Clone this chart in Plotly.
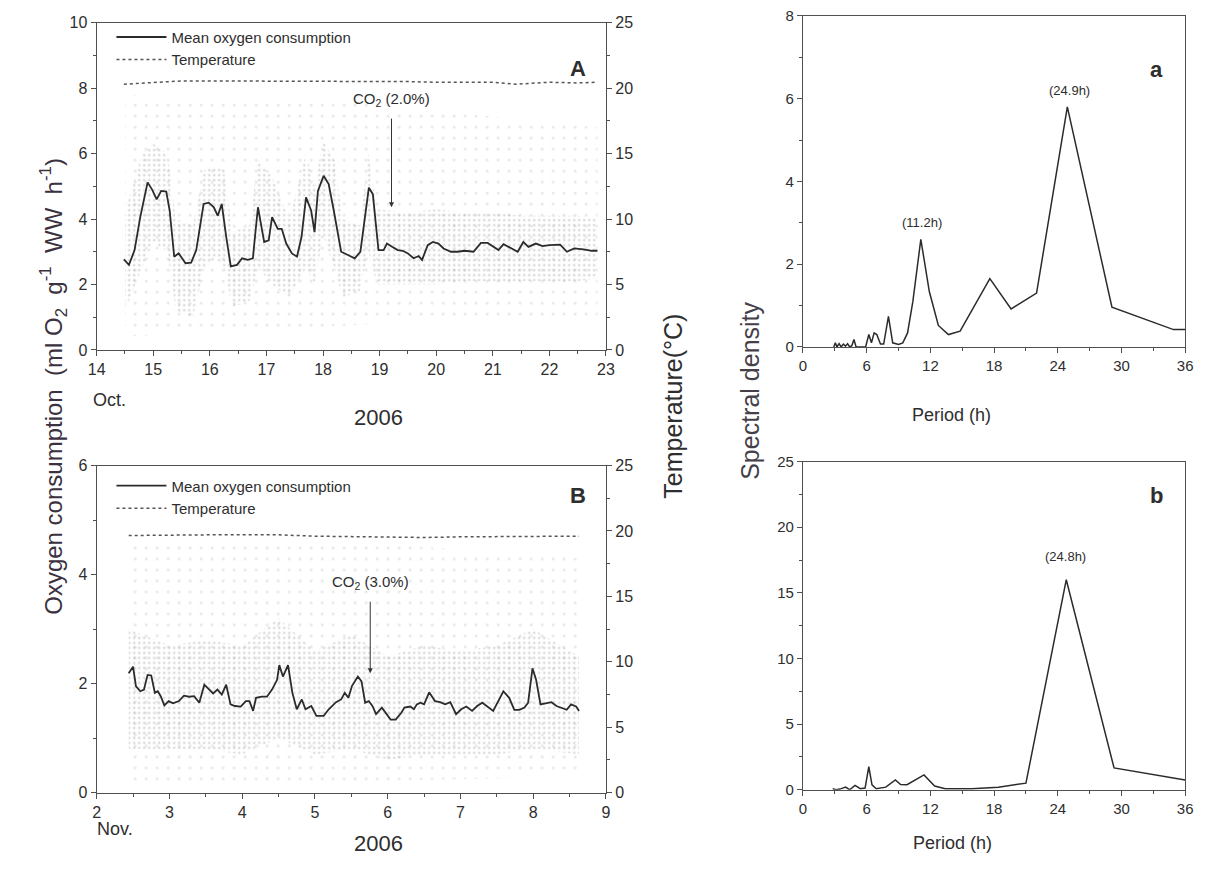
import plotly.graph_objects as go

W, H = 1207, 883

# ---------------- Panel A (Oct 2006) ----------------
a_time = [14.48, 14.57, 14.67, 14.77, 14.9, 14.98, 15.06, 15.14, 15.23, 15.29, 15.37, 15.45, 15.57, 15.67,
          15.76, 15.89, 15.98, 16.07, 16.14, 16.21, 16.29, 16.37, 16.48, 16.57, 16.67, 16.76, 16.85, 16.96,
          17.04, 17.1, 17.2, 17.27, 17.35, 17.45, 17.54, 17.62, 17.7, 17.79, 17.85, 17.91, 18.01, 18.1,
          18.19, 18.32, 18.44, 18.56, 18.66, 18.76, 18.81, 18.88, 18.98, 19.07, 19.13, 19.22, 19.32, 19.41,
          19.5, 19.6, 19.69, 19.75, 19.85, 19.94, 20.04, 20.13, 20.26, 20.38, 20.5, 20.66, 20.79, 20.91,
          21.0, 21.1, 21.19, 21.32, 21.44, 21.54, 21.63, 21.76, 21.88, 22.0, 22.1, 22.19, 22.31, 22.44,
          22.6, 22.75, 22.85]
a_oxygen = [2.77, 2.6, 3.05, 4.06, 5.12, 4.9, 4.6, 4.86, 4.84, 4.26, 2.85, 2.95, 2.65, 2.67,
            3.05, 4.46, 4.5, 4.36, 4.1, 4.46, 3.45, 2.55, 2.6, 2.8, 2.75, 2.8, 4.36, 3.3,
            3.35, 4.06, 3.7, 3.7, 3.25, 2.95, 2.85, 3.45, 4.66, 4.26, 3.6, 4.86, 5.32, 5.07,
            4.26, 3.0, 2.9, 2.8, 3.0, 4.36, 4.96, 4.76, 3.05, 3.05, 3.25, 3.15, 3.05, 3.03,
            2.95, 2.8, 2.87, 2.75, 3.2, 3.3, 3.25, 3.1, 3.0, 3.0, 3.03, 3.0, 3.27, 3.27,
            3.17, 3.05, 3.23, 3.1, 3.0, 3.3, 3.15, 3.25, 3.17, 3.2, 3.2, 3.22, 3.0, 3.1,
            3.07, 3.03, 3.03]
a_temp_time = [14.48, 15.0, 15.5, 16.0, 16.5, 17.0, 17.5, 18.0, 18.5, 19.0, 19.5, 20.0, 20.5, 21.0,
               21.4, 21.7, 22.0, 22.5, 22.85]
a_temp = [20.3, 20.4, 20.55, 20.55, 20.55, 20.5, 20.55, 20.55, 20.5, 20.5, 20.5, 20.45, 20.45, 20.45,
          20.3, 20.4, 20.45, 20.4, 20.45]
# spread of individual readings (dense core of the dot cloud)
a_cloud_time = [14.5, 14.8, 15.0, 15.25, 15.4, 15.7, 15.9, 16.1, 16.25, 16.4, 16.7, 16.85, 17.1, 17.4,
                17.7, 17.85, 18.0, 18.2, 18.35, 18.65, 18.8, 18.95, 19.5, 20.0, 20.5, 21.0, 21.5, 22.0,
                22.5, 22.85]
a_cloud_low = [1.2, 2.5, 3.3, 3.0, 1.2, 1.0, 2.5, 2.8, 2.5, 1.3, 1.5, 2.5, 2.0, 1.6,
               2.5, 2.0, 3.5, 2.5, 1.6, 1.8, 3.0, 2.0, 2.0, 2.0, 2.1, 2.1, 2.1, 2.1,
               2.1, 2.2]
a_cloud_high = [4.2, 6.0, 6.3, 6.0, 4.0, 3.8, 5.5, 5.6, 5.5, 3.6, 3.8, 5.8, 5.3, 4.0,
                6.0, 5.0, 6.4, 5.8, 4.0, 3.8, 6.0, 4.3, 4.2, 4.3, 4.2, 4.2, 4.1, 4.1,
                4.1, 4.0]
a_sparse_time = [14.5, 19.0, 22.85]
a_sparse_low = [0.4, 0.8, 1.0]
a_sparse_high = [7.8, 7.5, 6.8]

# ---------------- Panel B (Nov 2006) ----------------
b_time = [2.44, 2.5, 2.54, 2.6, 2.65, 2.7, 2.75, 2.8, 2.84, 2.88, 2.93, 2.99, 3.05, 3.13, 3.2, 3.27,
          3.34, 3.41, 3.48, 3.54, 3.6, 3.66, 3.72, 3.78, 3.84, 3.9, 3.98, 4.05, 4.1, 4.15, 4.19, 4.27,
          4.34, 4.41, 4.48, 4.51, 4.56, 4.63, 4.69, 4.75, 4.82, 4.87, 4.95, 5.02, 5.12, 5.19, 5.29,
          5.36, 5.41, 5.46, 5.51, 5.59, 5.64, 5.69, 5.74, 5.79, 5.84, 5.92, 5.99, 6.04, 6.11, 6.19,
          6.23, 6.31, 6.36, 6.4, 6.45, 6.5, 6.57, 6.65, 6.72, 6.79, 6.86, 6.94, 7.01, 7.08, 7.16,
          7.23, 7.3, 7.37, 7.45, 7.52, 7.59, 7.67, 7.74, 7.81, 7.88, 7.93, 7.99, 8.04, 8.1, 8.17,
          8.25, 8.32, 8.39, 8.46, 8.52, 8.59, 8.63]
b_oxygen = [2.19, 2.31, 1.95, 1.86, 1.89, 2.16, 2.15, 1.83, 1.86, 1.77, 1.6, 1.68, 1.64, 1.68, 1.78, 1.76,
            1.77, 1.65, 1.98, 1.89, 1.82, 1.89, 1.8, 1.98, 1.62, 1.59, 1.58, 1.68, 1.68, 1.5, 1.74, 1.76,
            1.76, 1.89, 2.07, 2.34, 2.13, 2.34, 1.83, 1.53, 1.71, 1.53, 1.59, 1.41, 1.41, 1.53, 1.66,
            1.71, 1.83, 1.74, 1.96, 2.13, 2.04, 1.65, 1.68, 1.59, 1.44, 1.56, 1.44, 1.34, 1.34, 1.47,
            1.56, 1.58, 1.53, 1.62, 1.65, 1.62, 1.84, 1.68, 1.66, 1.62, 1.66, 1.44, 1.53, 1.58, 1.5,
            1.59, 1.65, 1.58, 1.5, 1.68, 1.86, 1.74, 1.52, 1.52, 1.56, 1.65, 2.28, 2.07, 1.62, 1.64,
            1.66, 1.59, 1.56, 1.52, 1.62, 1.58, 1.5]
b_temp_time = [2.44, 3.0, 3.5, 4.0, 4.5, 5.0, 5.5, 6.0, 6.5, 7.0, 7.5, 8.0, 8.63]
b_temp = [19.65, 19.7, 19.7, 19.7, 19.7, 19.6, 19.55, 19.5, 19.5, 19.55, 19.55, 19.6, 19.6]
b_cloud_time = [2.44, 3.0, 3.5, 4.0, 4.5, 5.0, 5.5, 6.0, 6.5, 7.0, 7.5, 8.0, 8.63]
b_cloud_low = [0.8, 0.8, 0.8, 0.7, 1.0, 0.7, 0.8, 0.6, 0.7, 0.7, 0.7, 0.8, 0.7]
b_cloud_high = [3.0, 2.7, 2.8, 2.7, 3.2, 2.6, 2.9, 2.5, 2.7, 2.6, 2.7, 3.0, 2.5]
b_sparse_time = [2.44, 5.5, 8.63]
b_sparse_low = [0.2, 0.2, 0.3]
b_sparse_high = [4.6, 4.6, 4.3]

# ---------------- Spectral panels ----------------
sa_period = [2.9, 3.05, 3.2, 3.4, 3.6, 3.8, 4.0, 4.2, 4.4, 4.6, 4.8, 5.0, 5.9, 6.2, 6.45, 6.7, 6.95, 7.3,
             7.6, 8.05, 8.45, 9.0, 9.4, 9.85, 10.35, 11.1, 11.9, 12.75, 13.7, 14.8, 17.6, 19.6, 22.0,
             24.9, 29.1, 34.9, 36.0]
sa_density = [0, 0.1, 0, 0.08, 0, 0.07, 0.02, 0.08, 0, 0.03, 0.18, 0, 0, 0.3, 0.1, 0.34, 0.3, 0.07,
              0.07, 0.74, 0.1, 0.06, 0.1, 0.34, 1.1, 2.6, 1.34, 0.52, 0.3, 0.38, 1.65, 0.92, 1.3,
              5.8, 0.96, 0.42, 0.42]
sb_period = [2.8, 3.1, 3.5, 4.0, 4.4, 4.9, 5.4, 5.85, 6.2, 6.5, 6.9, 7.8, 8.7, 9.2, 9.8, 11.4, 12.4,
             13.4, 15.9, 18.4, 21.0, 24.8, 29.3, 36.0]
sb_density = [0.08, 0, 0.05, 0.2, 0, 0.33, 0.08, 0.13, 1.76, 0.38, 0.08, 0.2, 0.75, 0.4, 0.38, 1.13,
              0.28, 0.08, 0.08, 0.2, 0.5, 16.0, 1.66, 0.75]

a_ticks = list(range(14, 24))
b_ticks = list(range(2, 10))
period_ticks = [0, 6, 12, 18, 24, 30, 36]

# ---------------- styling ----------------
FONT = "Liberation Sans, Arial, sans-serif"
NARROW = "Liberation Sans Narrow, Arial Narrow, Liberation Sans, sans-serif"
TXT = "#2e2e2e"
AX = "#505050"
LINE = "#2b2b2b"


def px(x, y):
    return x / W, 1 - y / H


fig = go.Figure()

dot_pattern = dict(shape=".", fgcolor="rgba(95,95,95,0.6)", bgcolor="rgba(0,0,0,0)",
                   size=5, solidity=0.16, fillmode="overlay")
sparse_pattern = dict(shape=".", fgcolor="rgba(140,140,140,0.45)", bgcolor="rgba(0,0,0,0)",
                      size=11, solidity=0.05, fillmode="overlay")


def add_band(t, lo, hi, xa, ya, pattern):
    fig.add_trace(go.Scatter(x=t, y=lo, mode="lines", line=dict(width=0), showlegend=False,
                             hoverinfo="skip", xaxis=xa, yaxis=ya))
    fig.add_trace(go.Scatter(x=t, y=hi, mode="lines", line=dict(width=0), fill="tonexty",
                             fillcolor="rgba(0,0,0,0)", fillpattern=pattern, showlegend=False,
                             hoverinfo="skip", xaxis=xa, yaxis=ya))


# Panel A
add_band(a_sparse_time, a_sparse_low, a_sparse_high, "x", "y", sparse_pattern)
add_band(a_cloud_time, a_cloud_low, a_cloud_high, "x", "y", dot_pattern)
fig.add_trace(go.Scatter(x=a_time, y=a_oxygen, mode="lines", name="Mean oxygen consumption",
                         line=dict(color=LINE, width=1.8), xaxis="x", yaxis="y", legend="legend"))
fig.add_trace(go.Scatter(x=a_temp_time, y=a_temp, mode="lines", name="Temperature",
                         line=dict(color="#555555", width=1.5, dash="dot"), xaxis="x", yaxis="y2",
                         legend="legend"))
# Panel B
add_band(b_sparse_time, b_sparse_low, b_sparse_high, "x2", "y3", sparse_pattern)
add_band(b_cloud_time, b_cloud_low, b_cloud_high, "x2", "y3", dot_pattern)
fig.add_trace(go.Scatter(x=b_time, y=b_oxygen, mode="lines", name="Mean oxygen consumption",
                         line=dict(color=LINE, width=1.8), xaxis="x2", yaxis="y3", legend="legend2"))
fig.add_trace(go.Scatter(x=b_temp_time, y=b_temp, mode="lines", name="Temperature",
                         line=dict(color="#555555", width=1.5, dash="dot"), xaxis="x2", yaxis="y4",
                         legend="legend2"))
# Spectral a, b
fig.add_trace(go.Scatter(x=sa_period, y=sa_density, mode="lines", showlegend=False,
                         line=dict(color=LINE, width=1.5), xaxis="x3", yaxis="y5"))
fig.add_trace(go.Scatter(x=sb_period, y=sb_density, mode="lines", showlegend=False,
                         line=dict(color=LINE, width=1.5), xaxis="x4", yaxis="y6"))

# ---------------- axes ----------------
dA_x = [89 / W, 606 / W]
dA_y = [1 - 348 / H, 1 - 14 / H]
dB_y = [1 - 800 / H, 1 - 466 / H]
dS_x = [806 / W, 1194 / W]
dSa_y = [1 - 345 / H, 1 - 7 / H]
dSb_y = [1 - 797 / H, 1 - 462 / H]


def base_axis(**kw):
    d = dict(showgrid=False, zeroline=False, showline=True, linecolor=AX, linewidth=1.3,
             ticks="outside", ticklen=5, tickcolor=AX, tickwidth=1.2,
             tickfont=dict(family=FONT, size=16, color=TXT))
    d.update(kw)
    return d


def inner_axis(**kw):
    d = dict(showgrid=False, zeroline=False, showline=False, ticks="inside", ticklen=5,
             tickcolor=AX, tickwidth=1.2, showticklabels=False)
    d.update(kw)
    return d


lay = dict(
    width=W, height=H, margin=dict(l=0, r=0, t=0, b=0),
    paper_bgcolor="white", plot_bgcolor="rgba(0,0,0,0)",
    font=dict(family=FONT, color=TXT),
    # Panel A
    xaxis=base_axis(domain=dA_x, anchor="y", range=[14, 23], tickvals=a_ticks, mirror=True,
                    minor=dict(dtick=0.5, ticklen=3, ticks="outside", tickcolor=AX)),
    yaxis=base_axis(domain=dA_y, anchor="x", range=[0, 10], dtick=2,
                    minor=dict(dtick=1, ticklen=3, ticks="outside", tickcolor=AX)),
    yaxis2=base_axis(overlaying="y", anchor="x", side="right", range=[0, 25], dtick=5,
                     minor=dict(dtick=2.5, ticklen=3, ticks="outside", tickcolor=AX)),
    # Panel B
    xaxis2=base_axis(domain=dA_x, anchor="y3", range=[2, 9], tickvals=b_ticks, mirror=True,
                     minor=dict(dtick=0.5, ticklen=3, ticks="outside", tickcolor=AX)),
    yaxis3=base_axis(domain=dB_y, anchor="x2", range=[0, 6], dtick=2,
                     minor=dict(dtick=1, ticklen=3, ticks="outside", tickcolor=AX)),
    yaxis4=base_axis(overlaying="y3", anchor="x2", side="right", range=[0, 25], dtick=5,
                     minor=dict(dtick=2.5, ticklen=3, ticks="outside", tickcolor=AX)),
    # Spectral a
    xaxis3=base_axis(domain=dS_x, anchor="y5", range=[0, 36], tickvals=period_ticks, mirror=True,
                     tickfont=dict(family=NARROW, size=15, color=TXT),
                     minor=dict(dtick=3, ticklen=3, ticks="outside", tickcolor=AX)),
    yaxis5=base_axis(domain=dSa_y, anchor="x3", range=[0, 8], dtick=2, mirror=True,
                     tickfont=dict(family=NARROW, size=15, color=TXT),
                     minor=dict(dtick=1, ticklen=3, ticks="outside", tickcolor=AX)),
    # Spectral b
    xaxis4=base_axis(domain=dS_x, anchor="y6", range=[0, 36], tickvals=period_ticks, mirror=True,
                     tickfont=dict(family=NARROW, size=15, color=TXT),
                     minor=dict(dtick=3, ticklen=3, ticks="outside", tickcolor=AX)),
    yaxis6=base_axis(domain=dSb_y, anchor="x4", range=[0, 25], dtick=5, mirror=True,
                     tickfont=dict(family=NARROW, size=15, color=TXT),
                     minor=dict(dtick=2.5, ticklen=3, ticks="outside", tickcolor=AX)),
    # inner halves of the crossing ticks
    xaxis5=inner_axis(overlaying="x", anchor="y", range=[14, 23], tickvals=a_ticks,
                      minor=dict(dtick=0.5, ticklen=3, ticks="inside", tickcolor=AX)),
    xaxis6=inner_axis(overlaying="x2", anchor="y3", range=[2, 9], tickvals=b_ticks,
                      minor=dict(dtick=0.5, ticklen=3, ticks="inside", tickcolor=AX)),
    xaxis7=inner_axis(overlaying="x3", anchor="y5", range=[0, 36], tickvals=period_ticks,
                      minor=dict(dtick=3, ticklen=3, ticks="inside", tickcolor=AX)),
    xaxis8=inner_axis(overlaying="x4", anchor="y6", range=[0, 36], tickvals=period_ticks,
                      minor=dict(dtick=3, ticklen=3, ticks="inside", tickcolor=AX)),
    yaxis7=inner_axis(overlaying="y", anchor="x", range=[0, 10], dtick=2,
                      minor=dict(dtick=1, ticklen=3, ticks="inside", tickcolor=AX)),
    yaxis8=inner_axis(overlaying="y", anchor="x", side="right", range=[0, 25], dtick=5,
                      minor=dict(dtick=2.5, ticklen=3, ticks="inside", tickcolor=AX)),
    yaxis9=inner_axis(overlaying="y3", anchor="x2", range=[0, 6], dtick=2,
                      minor=dict(dtick=1, ticklen=3, ticks="inside", tickcolor=AX)),
    yaxis10=inner_axis(overlaying="y3", anchor="x2", side="right", range=[0, 25], dtick=5,
                       minor=dict(dtick=2.5, ticklen=3, ticks="inside", tickcolor=AX)),
    yaxis11=inner_axis(overlaying="y5", anchor="x3", range=[0, 8], dtick=2,
                       minor=dict(dtick=1, ticklen=3, ticks="inside", tickcolor=AX)),
    yaxis12=inner_axis(overlaying="y6", anchor="x4", range=[0, 25], dtick=5,
                       minor=dict(dtick=2.5, ticklen=3, ticks="inside", tickcolor=AX)),
    legend=dict(x=px(104, 0)[0], y=px(0, 12)[1], xanchor="left", yanchor="top",
                bgcolor="rgba(0,0,0,0)", font=dict(family=NARROW, size=15, color=TXT),
                tracegroupgap=0, itemwidth=50, traceorder="normal"),
    legend2=dict(x=px(104, 0)[0], y=px(0, 470)[1], xanchor="left", yanchor="top",
                 bgcolor="rgba(0,0,0,0)", font=dict(family=NARROW, size=15, color=TXT),
                 tracegroupgap=0, itemwidth=50, traceorder="normal"),
    showlegend=True,
)
fig.update_layout(**lay)

# ---------------- annotations ----------------
ann = []


def ptext(text, x, y, size, **kw):
    xx, yy = px(x, y)
    d = dict(text=text, x=xx, y=yy, xref="paper", yref="paper", showarrow=False,
             font=dict(family=FONT, size=size, color=kw.pop("color", TXT)))
    d.update(kw)
    ann.append(d)


ptext("<b>A</b>", 578, 46, 22)
ptext("<b>B</b>", 578, 497, 22)
ptext("<b>a</b>", 1173, 47, 22)
ptext("<b>b</b>", 1173, 497, 22)
ptext("Oct.", 83, 399, 18, xanchor="left")
ptext("Nov.", 87, 849, 18, xanchor="left")
ptext("2006", 348, 417, 22)
ptext("2006", 348, 867, 22)
ptext("Period (h)", 999, 414, 18)
ptext("Period (h)", 1000, 864, 18)
ptext("Oxygen consumption &nbsp;(ml O<sub>2</sub> &nbsp;g<sup>-1</sup> &nbsp;WW &nbsp;h<sup>-1</sup>)",
      26, 385, 24, textangle=-90, color="#3b3140")
ptext("Temperature(°C)", 674, 405, 25, textangle=-90)
ptext("Spectral density", 752, 390, 25, textangle=-90, color="#453f4a")

# CO2 arrows (data coordinates)
ann.append(dict(text="CO<sub>2</sub> (2.0%)", x=19.21, y=4.36, ax=19.21, ay=7.65, xref="x", yref="y",
                axref="x", ayref="y", showarrow=True, arrowhead=2, arrowsize=1, arrowwidth=1,
                arrowcolor="#333", startstandoff=8,
                font=dict(family=NARROW, size=15, color=TXT)))
ann.append(dict(text="CO<sub>2</sub> (3.0%)", x=5.76, y=2.19, ax=5.76, ay=3.85, xref="x2", yref="y3",
                axref="x2", ayref="y3", showarrow=True, arrowhead=2, arrowsize=1, arrowwidth=1,
                arrowcolor="#333", startstandoff=8,
                font=dict(family=NARROW, size=15, color=TXT)))
# peak labels
ann.append(dict(text="(11.2h)", x=11.2, y=3.0, xref="x3", yref="y5", showarrow=False,
                font=dict(family=NARROW, size=13, color=TXT)))
ann.append(dict(text="(24.9h)", x=25.1, y=6.2, xref="x3", yref="y5", showarrow=False,
                font=dict(family=NARROW, size=13, color=TXT)))
ann.append(dict(text="(24.8h)", x=24.7, y=17.8, xref="x4", yref="y6", showarrow=False,
                font=dict(family=NARROW, size=13, color=TXT)))

fig.update_layout(annotations=ann)
fig.write_html("out.html")
